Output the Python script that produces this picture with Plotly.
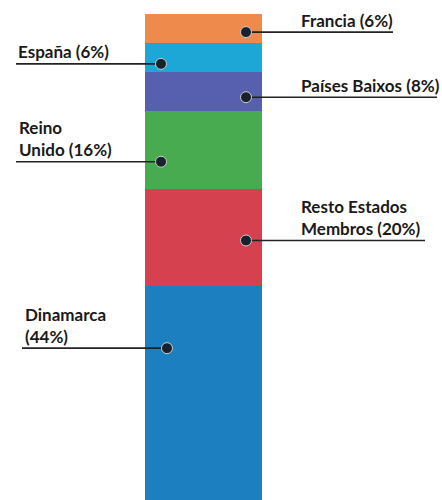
import plotly.graph_objects as go

# ---- data (bottom to top of the stacked bar) ----
categories = ["Dinamarca", "Resto Estados Membros", "Reino Unido", "Países Baixos", "España", "Francia"]
shares = [44, 20, 16, 8, 6, 6]
labels = ["Dinamarca<br>(44%)", "Resto Estados<br>Membros (20%)", "Reino<br>Unido (16%)",
          "Países Baixos (8%)", "España (6%)", "Francia (6%)"]
colors = ["#1B7FC0", "#D5414F", "#48AB50", "#5660AE", "#1DA7D7", "#EF8A4D"]

# ---- layout helpers (pixel geometry of the callouts) ----
W, H = 442, 500
BAR_L, BAR_R, BAR_TOP = 145, 262, 14
BAR_W = BAR_R - BAR_L
CX = (BAR_L + BAR_R) / 2


def px2x(px):
    return (px - CX) / BAR_W


dot_frac = [0.71, 0.47, 0.35, 0.36, 0.29, 0.38]  # position of dot inside each segment
dot_px = [167, 246, 161, 246, 161, 246]
line_end_px = [22, 425, 16, 437, 16, 393]
text_px = [23, 299, 17, 299, 16, 299]

fig = go.Figure()
for cat, val, col in zip(categories, shares, colors):
    fig.add_trace(go.Bar(x=[0], y=[val], name=cat, width=1, marker=dict(color=col, line=dict(width=0)),
                         hoverinfo="name+y", showlegend=False))

total = sum(shares)
per_px = (H - BAR_TOP) / total
y_top = total + BAR_TOP / per_px

bottom = 0
dots_x, dots_y = [], []
annotations = []
for i, val in enumerate(shares):
    yd = bottom + dot_frac[i] * val
    xd = px2x(dot_px[i])
    xe = px2x(line_end_px[i])
    fig.add_trace(go.Scatter(x=[xd, xe], y=[yd, yd], mode="lines",
                             line=dict(color="#222222", width=1.6), hoverinfo="skip", showlegend=False))
    dots_x.append(xd)
    dots_y.append(yd)
    annotations.append(dict(x=px2x(text_px[i]), y=yd, xref="x", yref="y", text=labels[i],
                            showarrow=False, xanchor="left", yanchor="bottom", align="left", yshift=-0.5,
                            font=dict(family="Lato", size=17, color="#1a1a1a", weight="bold")))
    bottom += val

fig.add_trace(go.Scatter(x=dots_x, y=dots_y, mode="markers",
                         marker=dict(size=11, color="#17222c", line=dict(color="#c8ccd0", width=1)),
                         hoverinfo="skip", showlegend=False))

fig.update_layout(
    width=W, height=H, barmode="stack", bargap=0,
    margin=dict(l=0, r=0, t=0, b=0),
    paper_bgcolor="white", plot_bgcolor="white",
    xaxis=dict(range=[px2x(0), px2x(W)], visible=False, fixedrange=True),
    yaxis=dict(range=[0, y_top], visible=False, fixedrange=True),
    annotations=annotations,
)

fig.write_html("out.html", config={"displayModeBar": False},
               post_script="document.body.style.margin='0';document.body.style.overflow='hidden';")
